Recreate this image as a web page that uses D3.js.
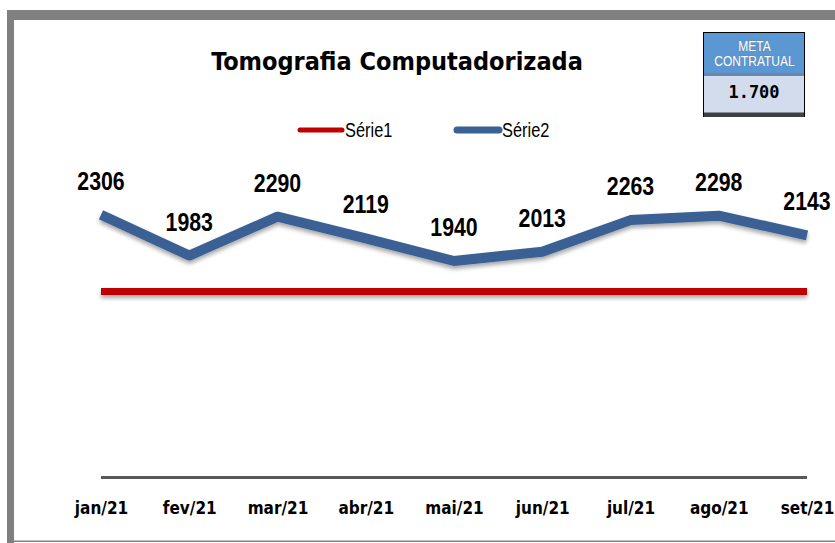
<!DOCTYPE html>
<html>
<head>
<meta charset="utf-8">
<script src="https://cdn.jsdelivr.net/npm/d3@7"></script>
<style>
  body { margin: 0; background: #fff; }
  svg { display: block; }
</style>
</head>
<body>
<div id="chart-area"></div>
<script>
// data
const months = ["jan/21", "fev/21", "mar/21", "abr/21", "mai/21", "jun/21", "jul/21", "ago/21", "set/21"];
const serie1 = [1700, 1700, 1700, 1700, 1700, 1700, 1700, 1700, 1700];
const serie2 = [2306, 1983, 2290, 2119, 1940, 2013, 2263, 2298, 2143];
const seriesNames = ["Série1", "Série2"];
const metaLabel = ["META", "CONTRATUAL"];
const metaValue = "1.700";

const W = 835, H = 543;
const numFont = "'Liberation Sans', Arial, sans-serif";
const condFont = "'DejaVu Sans Condensed', 'Liberation Sans Narrow', sans-serif";
const narrow = 0.82; // horizontal squeeze to get a narrow face

const svg = d3.select("#chart-area")
    .append("svg")
    .attr("width", W)
    .attr("height", H);

const defs = svg.append("defs");
const shadow = defs.append("filter")
    .attr("id", "shadow")
    .attr("filterUnits", "userSpaceOnUse")
    .attr("x", 0).attr("y", 0)
    .attr("width", W).attr("height", H);
shadow.append("feDropShadow")
    .attr("dx", 0).attr("dy", 3)
    .attr("stdDeviation", 2)
    .attr("flood-color", "#000")
    .attr("flood-opacity", 0.35);

// outer frame
svg.append("rect").attr("x", 7).attr("y", 10).attr("width", W - 7).attr("height", 10).attr("fill", "#808080");
svg.append("rect").attr("x", 7).attr("y", 10).attr("width", 7).attr("height", H - 10).attr("fill", "#808080");
svg.append("rect").attr("x", 7).attr("y", 540.5).attr("width", W - 7).attr("height", 1.5).attr("fill", "#808080");

// scales
const x = d3.scalePoint().domain(months).range([101, 807]);
const y = d3.scaleLinear().domain([230, 2500]).range([477.5, 190.1]);

// title
svg.append("text")
    .attr("x", 397)
    .attr("y", 70)
    .attr("text-anchor", "middle")
    .attr("font-family", condFont)
    .attr("font-weight", "bold")
    .attr("font-size", "25px")
    .attr("fill", "#000")
    .text("Tomografia Computadorizada");

// legend
const legend = [
    { name: seriesNames[0], color: "#C00000", w: 5, x0: 300 },
    { name: seriesNames[1], color: "#3A6194", w: 7, x0: 457 }
];
legend.forEach(function (d) {
    svg.append("line")
        .attr("x1", d.x0).attr("x2", d.x0 + 42)
        .attr("y1", 130).attr("y2", 130)
        .attr("stroke", d.color)
        .attr("stroke-width", d.w)
        .attr("stroke-linecap", "round");
    svg.append("text")
        .attr("transform", `translate(${d.x0 + 45},137) scale(${narrow},1)`)
        .attr("font-family", numFont)
        .attr("font-size", "20px")
        .attr("fill", "#000")
        .text(d.name);
});

// x axis
const xAxis = svg.append("g")
    .attr("transform", "translate(0,477.5)")
    .call(d3.axisBottom(x).tickSize(0).tickPadding(24));
xAxis.select(".domain")
    .attr("d", "M101,0H807")
    .attr("stroke", "#595959")
    .attr("stroke-width", 3);
xAxis.selectAll("text")
    .attr("font-family", condFont)
    .attr("font-weight", "bold")
    .attr("font-size", "17px")
    .attr("fill", "#000");

// lines
const line = d3.line()
    .x(function (d, i) { return x(months[i]); })
    .y(function (d) { return y(d); });

svg.append("path")
    .attr("d", line(serie1))
    .attr("fill", "none")
    .attr("stroke", "#C00000")
    .attr("stroke-width", 7)
    .attr("filter", "url(#shadow)");

svg.append("path")
    .attr("d", line(serie2))
    .attr("fill", "none")
    .attr("stroke", "#3A6194")
    .attr("stroke-width", 10)
    .attr("stroke-linejoin", "round")
    .attr("filter", "url(#shadow)");

// data labels
svg.selectAll(".dlabel")
    .data(serie2)
    .enter()
    .append("text")
    .attr("class", "dlabel")
    .attr("transform", function (d, i) {
        return `translate(${x(months[i])},${y(d) - 25}) scale(${narrow},1)`;
    })
    .attr("text-anchor", "middle")
    .attr("font-family", numFont)
    .attr("font-weight", "bold")
    .attr("font-size", "26px")
    .attr("fill", "#000")
    .text(function (d) { return d; });

// meta box
const box = svg.append("g");
box.append("rect").attr("x", 703.5).attr("y", 32.5).attr("width", 101).attr("height", 84).attr("fill", "#D3DCEC").attr("stroke", "#000");
box.append("rect").attr("x", 704).attr("y", 33).attr("width", 100).attr("height", 40).attr("fill", "#5A97D3");
box.append("rect").attr("x", 704).attr("y", 73).attr("width", 100).attr("height", 3).attr("fill", "#6F86A8");
box.append("rect").attr("x", 704).attr("y", 112.5).attr("width", 100).attr("height", 4.5).attr("fill", "#404040");
metaLabel.forEach(function (t, i) {
    box.append("text")
        .attr("transform", `translate(754.5,${50.5 + i * 15}) scale(0.8,1)`)
        .attr("text-anchor", "middle")
        .attr("font-family", numFont)
        .attr("font-size", "15px")
        .attr("fill", "#fff")
        .attr("stroke", "#6d7f96")
        .attr("stroke-width", 0.6)
        .attr("paint-order", "stroke")
        .text(t);
});
box.append("text")
    .attr("x", 754).attr("y", 98)
    .attr("text-anchor", "middle")
    .attr("font-family", "'DejaVu Sans Mono', monospace")
    .attr("font-weight", "bold")
    .attr("font-size", "17px")
    .attr("fill", "#000")
    .text(metaValue);
</script>
</body>
</html>
